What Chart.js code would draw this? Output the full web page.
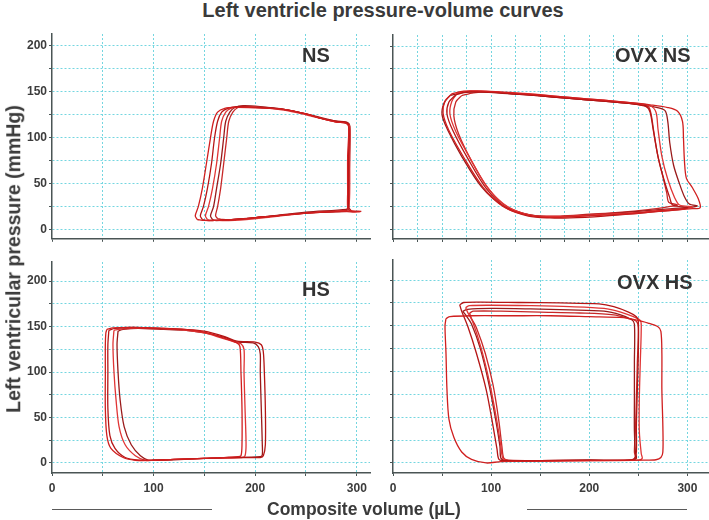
<!DOCTYPE html>
<html><head><meta charset="utf-8">
<script src="https://cdn.jsdelivr.net/npm/chart.js@4.4.1/dist/chart.umd.min.js"></script>
<style>
html,body{margin:0;padding:0;background:#fff;overflow:hidden;width:709px;height:520px}
#wrap{position:relative;width:709px;height:520px;overflow:hidden;font-family:"Liberation Sans",Arial,sans-serif}
#wrap canvas{position:absolute}
.t{position:absolute;font-weight:bold;color:#3a3a3a;white-space:nowrap;line-height:1}
.rule{position:absolute;height:1px;background:#5a5a5a}
</style></head>
<body><div id="wrap">
<div class="t" style="left:383px;top:0px;font-size:20px;transform:translateX(-50%)">Left ventricle pressure-volume curves</div>
<div class="t" style="left:14px;top:259px;font-size:19.5px;transform:translate(-50%,-50%) rotate(-90deg)">Left ventricular pressure (mmHg)</div>
<div class="t" style="left:267px;top:501px;font-size:17.5px">Composite volume (µL)</div>
<div class="rule" style="left:52px;top:509px;width:160px"></div>
<div class="rule" style="left:527px;top:509px;width:160px"></div>
</div>
<script>
// ---- data: pressure (mmHg) vs volume (µL) loops ----
const panelNames = ['NS', 'OVX NS', 'HS', 'OVX HS'];
const pressureTicks = [0, 25, 50, 75, 100, 125, 150, 175, 200];
const pressureLabelTicks = [0, 50, 100, 150, 200];
const volumeTicksCoarse = [0, 50, 100, 150, 200, 250, 300];
const volumeTicksFine = [0, 25, 50, 75, 100, 125, 150, 175, 200, 225, 250, 275, 300];
const volumeLabelTicks = [0, 100, 200, 300];

const nsLoop1 = [[143,11],[141,15],[144,25],[148,45],[152,72],[156,100],[159,118],[163,128],[170,132],[180,133],[200,132.5],[228,131],[250,126],[265,121],[280,117],[289,116],[292,112],[291,80],[291,40],[291,25],[293,21],[304,20],[296,19],[285,20],[250,18],[210,14],[180,11],[160,10],[150,10],[143,11]];
const nsLoop2 = [[148,11],[146,15],[149,25],[153,45],[157,72],[160,100],[163,118],[167,128],[173,132],[182,134],[200,133],[228,131],[250,126],[265,121],[280,118],[289,117],[292,113],[292,80],[292,40],[292,24],[294,21],[290,20],[250,18],[210,14],[180,11],[160,10],[152,10],[148,11]];
const nsLoop3 = [[153,11],[151,15],[154,25],[158,45],[162,72],[165,100],[167,118],[171,128],[176,132],[185,134],[205,133],[228,130],[250,125],[265,121],[280,117],[290,116],[293,112],[293,80],[293,40],[292,23],[290,21],[250,18],[210,13],[180,10],[162,10],[156,10],[153,11]];
const nsLoop4 = [[158,11],[156,15],[159,25],[162,45],[166,72],[169,100],[171,118],[175,128],[180,133],[188,135],[205,134],[228,131],[250,126],[265,122],[280,118],[290,117],[293,113],[293,80],[292,40],[292,24],[290,22],[250,19],[210,14],[180,11],[165,10],[160,10],[158,11]];
const nsLoop5 = [[163,12],[161,15],[163,25],[166,45],[169,72],[172,100],[174,118],[178,128],[183,133],[190,134],[210,133],[228,131],[250,126],[265,121],[280,117],[290,116],[293,112],[292,80],[292,40],[291,24],[289,21],[250,18],[210,14],[180,11],[168,11],[163,12]];

const ovxNsLoop1 = [[60,148],[72,151],[90,151],[120,149],[147,147],[180,144],[215,141],[245,138],[262,136],[280,133],[290,129],[295,118],[296,100],[297,75],[299,56],[305,46],[311,34],[313,24],[305,23],[280,21],[250,18],[215,16],[180,14],[160,13.5],[137,16],[113,25],[92,46],[72,79],[57,108],[51,127],[53,140],[60,148]];
const ovxNsLoop2 = [[64,147],[75,150],[92,150],[120,148],[147,146],[180,143],[215,140],[245,137],[258,134],[262,128],[265,110],[270,80],[276,55],[282,35],[285,27],[300,24],[292,22],[270,20],[250,18],[215,15],[180,13],[160,13],[138,15],[115,24],[95,45],[76,78],[61,108],[55,126],[57,139],[64,147]];
const ovxNsLoop3 = [[66,149],[78,151],[95,151],[125,149],[150,147],[180,144],[215,141],[245,138],[262,135],[268,128],[270,110],[274,80],[280,55],[287,35],[292,27],[305,25],[296,23],[270,21],[250,19],[215,17],[180,15],[160,14.5],[140,16],[117,25],[97,45],[79,77],[64,107],[58,126],[60,140],[66,149]];
const ovxNsLoop4 = [[58,146],[70,149],[88,150],[120,148],[147,146],[180,143],[215,140],[245,137],[265,134],[277,130],[280,118],[282,95],[286,70],[292,50],[297,36],[302,28],[310,26],[298,24],[270,22],[250,20],[215,17],[180,15],[160,14],[136,17],[112,26],[90,47],[70,80],[56,108],[50,125],[52,138],[58,146]];
const ovxNsLoop5 = [[70,146],[82,149],[98,150],[125,148],[150,146],[180,143],[215,140],[245,137],[260,134],[263,126],[266,105],[270,80],[275,58],[279,40],[281,30],[290,27],[280,25],[260,22],[230,19],[200,17],[170,15],[150,15],[132,18],[112,28],[95,48],[80,75],[67,104],[62,124],[64,139],[70,146]];

const hsLoop1 = [[54,147],[60,148.5],[80,149],[110,148],[130,147],[150,144],[170,137],[182,132],[185,128],[186,100],[187,60],[187,20],[186,8],[183,7],[150,5],[120,4],[100,3],[82,3],[70,6],[58,16],[54,30],[52.5,60],[52.5,100],[52.5,130],[53,143],[54,147]];
const hsLoop2 = [[56,146],[62,148],[80,149],[110,148],[130,147],[150,145],[170,139],[182,134],[200,133],[206,130],[208,122],[209,100],[210,60],[210,20],[208,8],[205,6],[170,6],[150,5],[120,4],[100,3],[86,3],[72,6],[62,16],[57,30],[55,60],[55,100],[55,130],[56,146]];
const hsLoop3 = [[61,146],[66,147],[80,148],[110,147.5],[130,146],[150,143],[168,137],[180,133],[186,131],[189,125],[189,100],[190,60],[191,20],[190,8],[187,6],[150,5],[120,4],[100,3],[92,3],[82,8],[72,20],[66,40],[63,70],[61,100],[60,130],[61,146]];
const hsLoop4 = [[65,145],[70,147],[85,148],[110,147],[130,146],[150,143],[170,138],[182,133],[198,132],[203,128],[205,120],[205,100],[206,60],[207,20],[207,9],[205,7],[170,6],[150,5],[120,3.5],[100,3],[95,3],[87,8],[78,20],[71,40],[67,70],[65,100],[64,130],[65,145]];

const ovxHsLoop1 = [[54,158],[58,160],[80,161],[120,161],[160,161],[200,160],[235,159],[245,157],[260,153],[270,149],[273,144],[274,120],[274,80],[275,40],[275,12],[273,6],[268,3.5],[255,3],[200,2.5],[150,2],[110,1.5],[95,0],[80,4],[70,12],[62,28],[57,48],[55,80],[54,120],[53,150],[54,158]];
const ovxHsLoop2 = [[68,173],[72,175.5],[90,176],[130,175.5],[170,175],[210,174],[225,171],[240,165],[248,160],[250,155],[250,120],[249,80],[248,40],[248,12],[246,5],[240,3],[200,3],[150,2.5],[115,2.5],[108,4],[106,15],[102,40],[95,80],[85,120],[76,150],[70,166],[68,173]];
const ovxHsLoop3 = [[74,170],[78,172],[100,172.5],[140,172],[180,171],[215,169],[232,165],[245,160],[252,156],[253,150],[252,110],[251,70],[251,35],[253,10],[254,5],[250,3],[200,2.5],[150,2],[118,2.5],[112,5],[110,18],[106,45],[99,85],[90,125],[81,155],[76,165],[74,170]];
const ovxHsLoop4 = [[71,166],[76,168],[100,169],[140,168.5],[180,167.5],[215,166],[232,162],[243,157],[246,152],[246,110],[246,70],[246,35],[247,12],[248,5],[242,3],[200,3],[150,2.5],[115,2.5],[110,5],[109,18],[105,45],[98,85],[89,125],[80,152],[74,162],[71,166]];
const ovxHsLoop5 = [[78,164],[82,166],[110,166],[150,165],[190,164],[225,162],[240,158],[248,155],[250,148],[249,110],[248,70],[247,35],[246,12],[247,5],[243,3],[200,3],[150,2.5],[118,3],[113,5],[111,18],[108,45],[102,85],[94,120],[85,148],[80,158],[78,164]];

// ---- presentation ----
const loopColors = ['#d01f1f', '#b51515', '#e03535', '#9a1a1a', '#c82828'];
const gridColor = '#74d6e0';
const axisColor = '#4a5555';
const tickColor = '#3c3c3c';
const FONT = '"Liberation Sans", Arial, sans-serif';

const panels = [
  { name: panelNames[0], loops: [nsLoop1, nsLoop2, nsLoop3, nsLoop4, nsLoop5], area: {l:52, t:34, r:370, b:239}, xMax: 313, yMin: -10, yMax: 213, xTicks: volumeTicksCoarse, showX: false, showY: true, label: {left:302, top:45} },
  { name: panelNames[1], loops: [ovxNsLoop1, ovxNsLoop2, ovxNsLoop3, ovxNsLoop4, ovxNsLoop5], area: {l:393, t:35, r:708, b:239}, xMax: 321, yMin: -10, yMax: 212, xTicks: volumeTicksFine, showX: false, showY: false, label: {left:615, top:45} },
  { name: panelNames[2], loops: [hsLoop1, hsLoop2, hsLoop3, hsLoop4], area: {l:52, t:262, r:370, b:473}, xMax: 313, yMin: -11, yMax: 221, xTicks: volumeTicksCoarse, showX: true, showY: true, label: {left:302, top:279} },
  { name: panelNames[3], loops: [ovxHsLoop1, ovxHsLoop2, ovxHsLoop3, ovxHsLoop4, ovxHsLoop5], area: {l:393, t:260, r:708, b:473}, xMax: 321, yMin: -11, yMax: 222, xTicks: volumeTicksCoarse, showX: true, showY: false, label: {left:617, top:272} }
];

const wrap = document.getElementById('wrap');

function makeChart(p, W, H) {
  const canvas = document.createElement('canvas');
  canvas.width = W; canvas.height = H;
  canvas.style.width = W + 'px'; canvas.style.height = H + 'px';
  wrap.insertBefore(canvas, wrap.firstChild);
  return new Chart(canvas, {
    type: 'scatter',
    data: {
      datasets: p.loops.map((loop, i) => ({
        data: loop.map(([x, y]) => ({x, y})),
        showLine: true,
        borderColor: loopColors[i % loopColors.length],
        borderWidth: 1.3,
        pointRadius: 0,
        tension: 0.3,
        fill: false
      }))
    },
    options: {
      responsive: false,
      animation: false,
      events: [],
      layout: { padding: { top: 10, right: 10, bottom: 4, left: 4 } },
      plugins: { legend: { display: false }, tooltip: { enabled: false } },
      scales: {
        x: {
          type: 'linear', min: 0, max: p.xMax,
          afterBuildTicks: s => { s.ticks = p.xTicks.map(v => ({value: v})); },
          afterFit: s => { s.height = p.showX ? 28 : 3; },
          ticks: { display: p.showX, autoSkip: false, maxRotation: 0, padding: 5, color: tickColor,
                   font: { family: FONT, size: 12, weight: 'bold' },
                   callback: v => volumeLabelTicks.includes(v) ? String(v) : '' },
          grid: { color: ctx => (ctx.tick && ctx.tick.value === 0) ? 'rgba(0,0,0,0)' : gridColor, lineWidth: 1, drawTicks: true, tickLength: 3, tickColor: axisColor, tickWidth: 1 },
          border: { display: true, color: axisColor, width: 1.5, dash: [2, 2] }
        },
        y: {
          type: 'linear', min: p.yMin, max: p.yMax,
          afterBuildTicks: s => { s.ticks = pressureTicks.map(v => ({value: v})); },
          afterFit: s => { s.width = p.showY ? 40 : 6; },
          ticks: { display: p.showY, autoSkip: false, padding: 2, color: tickColor,
                   font: { family: FONT, size: 12, weight: 'bold' },
                   callback: v => pressureLabelTicks.includes(v) ? String(v) : '' },
          grid: { color: gridColor, lineWidth: 1, drawTicks: true, tickLength: 3, tickColor: axisColor, tickWidth: 1 },
          border: { display: true, color: axisColor, width: 1.5, dash: [2, 2] }
        }
      }
    }
  });
}

panels.forEach(p => {
  const aw = p.area.r - p.area.l, ah = p.area.b - p.area.t;
  let W = aw + 80, H = ah + 60;
  let c = makeChart(p, W, H);
  const a = c.chartArea;
  const lm = a.left, tm = a.top, rm = W - a.right, bm = H - a.bottom;
  const cv = c.canvas; c.destroy(); cv.remove();
  W = Math.round(lm + aw + rm); H = Math.round(tm + ah + bm);
  c = makeChart(p, W, H);
  c.canvas.style.left = Math.round(p.area.l - c.chartArea.left) + 'px';
  c.canvas.style.top = Math.round(p.area.t - c.chartArea.top) + 'px';

  const lab = document.createElement('div');
  lab.className = 't';
  lab.style.left = p.label.left + 'px';
  lab.style.top = p.label.top + 'px';
  lab.style.fontSize = '20px';
  lab.style.color = '#333';
  lab.textContent = p.name;
  wrap.appendChild(lab);
});
</script>
</body></html>
